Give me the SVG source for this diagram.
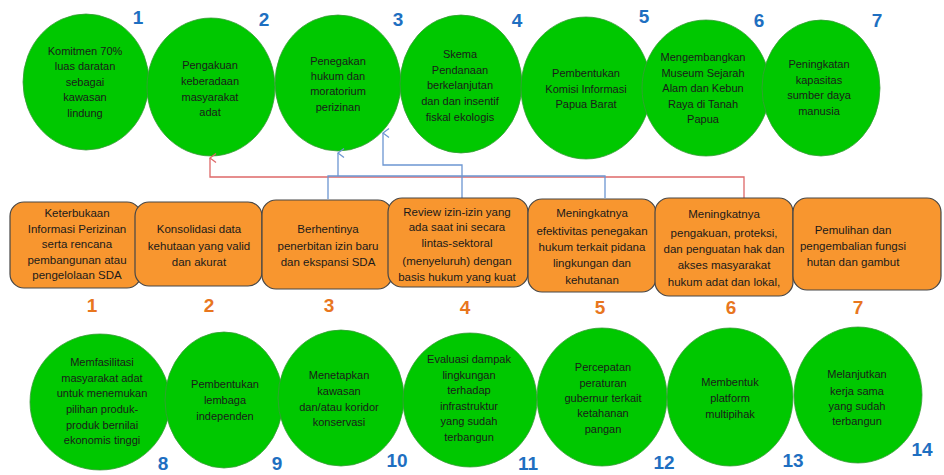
<svg xmlns="http://www.w3.org/2000/svg" width="944" height="475" viewBox="0 0 944 475">
<defs>
<style>
.c{fill:#00C800;stroke:#3a9a3a;stroke-width:0.8}
.b{fill:#F8962F;stroke:#474747;stroke-width:1.2}
.t{font-family:"Liberation Sans",Arial,sans-serif;font-size:11px;fill:#1a1a1a;text-anchor:middle}
.tb{font-family:"Liberation Sans",Arial,sans-serif;font-size:11.5px;fill:#1a1a1a;text-anchor:middle}
.nb{font-family:"Liberation Sans",Arial,sans-serif;font-size:19px;font-weight:bold;fill:#1E6FC1;text-anchor:middle}
.no{font-family:"Liberation Sans",Arial,sans-serif;font-size:19px;font-weight:bold;fill:#E8761E;text-anchor:middle}
.cr{fill:none;stroke:#DE6868;stroke-width:1.3}
.cb{fill:none;stroke:#6C96D2;stroke-width:1.3}
</style>
<marker id="ar" viewBox="-6 -1 12 9" markerWidth="12" markerHeight="9" refX="0" refY="0" orient="auto-start-reverse" markerUnits="userSpaceOnUse">
<path d="M-4.5,6 L0,0 L4.5,6" fill="none" stroke="#DE6868" stroke-width="1.3"/>
</marker>
<marker id="ab" viewBox="-6 -1 12 9" markerWidth="12" markerHeight="9" refX="0" refY="0" orient="auto-start-reverse" markerUnits="userSpaceOnUse">
<path d="M-4.5,6 L0,0 L4.5,6" fill="none" stroke="#6C96D2" stroke-width="1.3"/>
</marker>
</defs>
<rect width="944" height="475" fill="#ffffff"/>

<g id="top1"><ellipse class="c" cx="86" cy="82" rx="63" ry="68"/>
<text class="t"><tspan x="85" y="55">Komitmen 70%</tspan><tspan x="85" y="70">luas daratan</tspan><tspan x="85" y="86">sebagai</tspan><tspan x="85" y="101">kawasan</tspan><tspan x="85" y="117">lindung</tspan></text>
<text class="nb" x="138" y="24">1</text></g>

<g id="top2"><ellipse class="c" cx="211" cy="87" rx="64" ry="69"/>
<text class="t"><tspan x="210" y="69">Pengakuan</tspan><tspan x="210" y="85">keberadaan</tspan><tspan x="210" y="101">masyarakat</tspan><tspan x="210" y="116">adat</tspan></text>
<text class="nb" x="264" y="26">2</text></g>

<g id="top3"><ellipse class="c" cx="338" cy="83" rx="63" ry="68"/>
<text class="t"><tspan x="338" y="65">Penegakan</tspan><tspan x="338" y="80">hukum dan</tspan><tspan x="338" y="95">moratorium</tspan><tspan x="338" y="111">perizinan</tspan></text>
<text class="nb" x="398" y="26">3</text></g>

<g id="top4"><ellipse class="c" cx="461" cy="84" rx="61" ry="69"/>
<text class="t"><tspan x="460" y="58">Skema</tspan><tspan x="460" y="74">Pendanaan</tspan><tspan x="460" y="89">berkelanjutan</tspan><tspan x="460" y="105">dan dan insentif</tspan><tspan x="460" y="121">fiskal ekologis</tspan></text>
<text class="nb" x="517" y="27">4</text></g>

<g id="top5"><ellipse class="c" cx="586" cy="88" rx="65" ry="71"/>
<text class="t"><tspan x="586" y="77">Pembentukan</tspan><tspan x="586" y="93">Komisi Informasi</tspan><tspan x="586" y="108">Papua Barat</tspan></text>
<text class="nb" x="644" y="23">5</text></g>

<g id="top6"><ellipse class="c" cx="706" cy="88" rx="64" ry="68"/>
<text class="t"><tspan x="703" y="61">Mengembangkan</tspan><tspan x="703" y="77">Museum Sejarah</tspan><tspan x="703" y="92">Alam dan Kebun</tspan><tspan x="703" y="108">Raya di Tanah</tspan><tspan x="703" y="123">Papua</tspan></text>
<text class="nb" x="759" y="27">6</text></g>

<g id="top7"><ellipse class="c" cx="821" cy="88" rx="59" ry="68"/>
<text class="t"><tspan x="819" y="68">Peningkatan</tspan><tspan x="819" y="84">kapasitas</tspan><tspan x="819" y="99">sumber daya</tspan><tspan x="819" y="115">manusia</tspan></text>
<text class="nb" x="877" y="27">7</text></g>

<g id="connectors">
<path class="cr" d="M744,198 V177 H210 V158" marker-end="url(#ar)"/>
<path class="cb" d="M328,199 V176 H605 V198"/>
<path class="cb" d="M338,176 V153" marker-end="url(#ab)"/>
<path class="cb" d="M462,198 V165 H383 V133" marker-end="url(#ab)"/>
</g>

<g id="mid1"><rect class="b" x="10" y="202" width="131" height="86" rx="14"/>
<text class="tb"><tspan x="77" y="217">Keterbukaan</tspan><tspan x="77" y="233">Informasi Perizinan</tspan><tspan x="77" y="248">serta rencana</tspan><tspan x="77" y="264">pembangunan atau</tspan><tspan x="77" y="279">pengelolaan  SDA</tspan></text>
<text class="no" x="92" y="312">1</text></g>

<g id="mid2"><rect class="b" x="135" y="202" width="127" height="84" rx="14"/>
<text class="tb"><tspan x="199" y="233">Konsolidasi data</tspan><tspan x="199" y="250">kehutaan yang valid</tspan><tspan x="199" y="266">dan akurat</tspan></text>
<text class="no" x="209" y="312">2</text></g>

<g id="mid3"><rect class="b" x="262" y="200" width="130" height="89" rx="14"/>
<text class="tb"><tspan x="328" y="233">Berhentinya</tspan><tspan x="328" y="250">penerbitan izin baru</tspan><tspan x="328" y="266">dan ekspansi SDA</tspan></text>
<text class="no" x="329" y="312">3</text></g>

<g id="mid4"><rect class="b" x="388" y="198" width="140" height="89" rx="14"/>
<text class="tb"><tspan x="457" y="216">Review izin-izin yang</tspan><tspan x="457" y="231">ada saat ini secara</tspan><tspan x="457" y="247">lintas-sektoral</tspan><tspan x="457" y="265">(menyeluruh)  dengan</tspan><tspan x="457" y="281">basis hukum yang kuat</tspan></text>
<text class="no" x="465" y="314">4</text></g>

<g id="mid5"><rect class="b" x="528" y="199" width="128" height="93" rx="14"/>
<text class="tb"><tspan x="592" y="217">Meningkatnya</tspan><tspan x="592" y="235">efektivitas penegakan</tspan><tspan x="592" y="251">hukum terkait pidana</tspan><tspan x="592" y="267">lingkungan dan</tspan><tspan x="592" y="284">kehutanan</tspan></text>
<text class="no" x="600" y="314">5</text></g>

<g id="mid6"><rect class="b" x="655" y="198" width="138" height="98" rx="14"/>
<text class="tb"><tspan x="724" y="218">Meningkatnya</tspan><tspan x="724" y="237">pengakuan, proteksi,</tspan><tspan x="724" y="253">dan penguatan hak dan</tspan><tspan x="724" y="269">akses masyarakat</tspan><tspan x="724" y="286">hukum adat dan lokal,</tspan></text>
<text class="no" x="731" y="314">6</text></g>

<g id="mid7"><rect class="b" x="793" y="198" width="148" height="92" rx="14"/>
<text class="tb"><tspan x="853" y="234">Pemulihan dan</tspan><tspan x="853" y="250">pengembalian fungsi</tspan><tspan x="853" y="266">hutan dan gambut</tspan></text>
<text class="no" x="858" y="314">7</text></g>

<g id="bot8"><ellipse class="c" cx="100" cy="402" rx="70" ry="68"/>
<text class="t"><tspan x="102" y="366">Memfasilitasi</tspan><tspan x="102" y="382">masyarakat adat</tspan><tspan x="102" y="397">untuk menemukan</tspan><tspan x="102" y="413">pilihan produk-</tspan><tspan x="102" y="429">produk bernilai</tspan><tspan x="102" y="444">ekonomis tinggi</tspan></text>
<text class="nb" x="163" y="470">8</text></g>

<g id="bot9"><ellipse class="c" cx="224" cy="400" rx="59" ry="68"/>
<text class="t"><tspan x="225" y="388">Pembentukan</tspan><tspan x="225" y="404">lembaga</tspan><tspan x="225" y="420">independen</tspan></text>
<text class="nb" x="277" y="470">9</text></g>

<g id="bot10"><ellipse class="c" cx="341" cy="398" rx="63" ry="68"/>
<text class="t"><tspan x="339" y="379">Menetapkan</tspan><tspan x="339" y="395">kawasan</tspan><tspan x="339" y="411">dan/atau koridor</tspan><tspan x="339" y="426">konservasi</tspan></text>
<text class="nb" x="397" y="467">10</text></g>

<g id="bot11"><ellipse class="c" cx="470" cy="400" rx="67" ry="67"/>
<text class="t"><tspan x="469" y="363">Evaluasi dampak</tspan><tspan x="469" y="379">lingkungan</tspan><tspan x="469" y="394">terhadap</tspan><tspan x="469" y="410">infrastruktur</tspan><tspan x="469" y="425">yang sudah</tspan><tspan x="469" y="441">terbangun</tspan></text>
<text class="nb" x="528" y="470">11</text></g>

<g id="bot12"><ellipse class="c" cx="602" cy="397" rx="65" ry="69"/>
<text class="t"><tspan x="603" y="371">Percepatan</tspan><tspan x="603" y="387">peraturan</tspan><tspan x="603" y="402">gubernur terkait</tspan><tspan x="603" y="417">ketahanan</tspan><tspan x="603" y="433">pangan</tspan></text>
<text class="nb" x="664" y="469">12</text></g>

<g id="bot13"><ellipse class="c" cx="730" cy="397" rx="63" ry="69"/>
<text class="t"><tspan x="730" y="386">Membentuk</tspan><tspan x="730" y="402">platform</tspan><tspan x="730" y="418">multipihak</tspan></text>
<text class="nb" x="793" y="467">13</text></g>

<g id="bot14"><ellipse class="c" cx="858" cy="395" rx="64" ry="68"/>
<text class="t"><tspan x="857" y="378">Melanjutkan</tspan><tspan x="857" y="395">kerja sama</tspan><tspan x="857" y="410">yang sudah</tspan><tspan x="857" y="425">terbangun</tspan></text>
<text class="nb" x="922" y="456">14</text></g>
</svg>
